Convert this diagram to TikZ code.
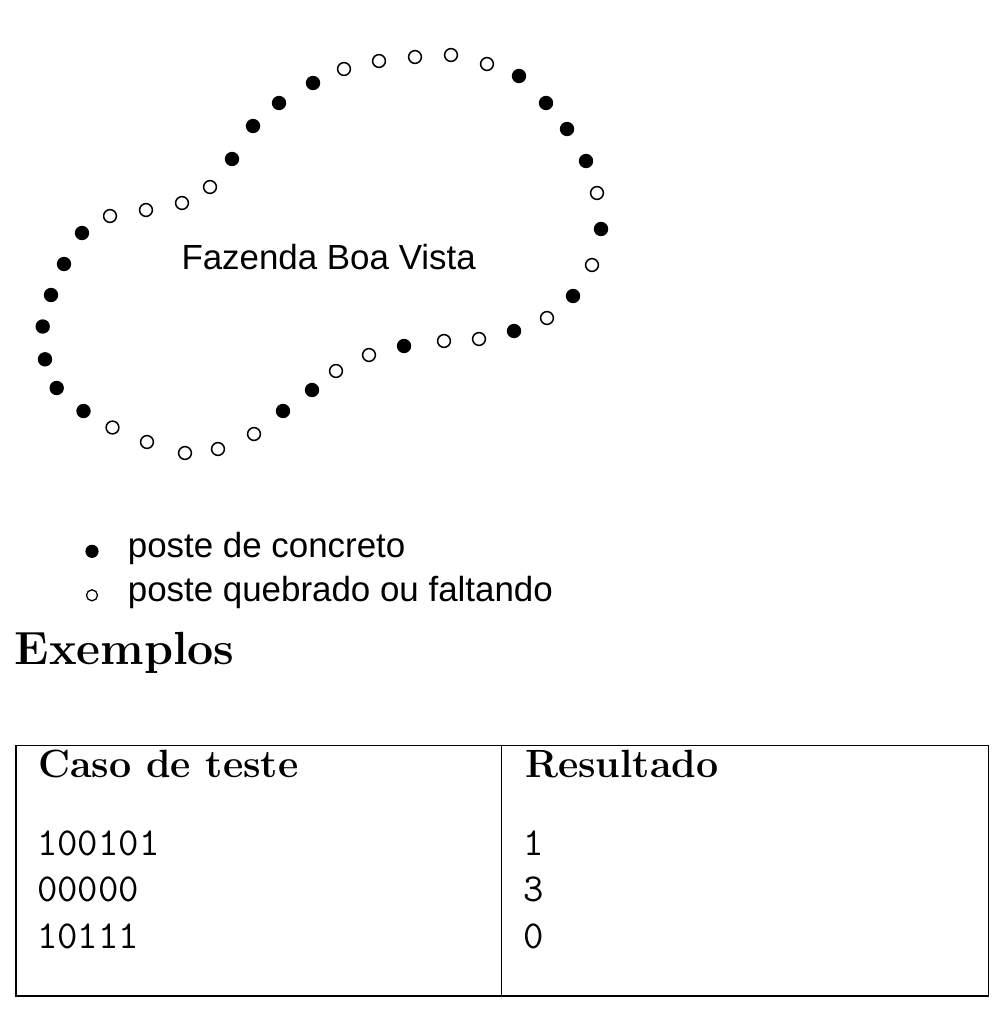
\documentclass[tikz,border=0pt]{standalone}
\usepackage{fontspec}
\newfontfamily\helv{Liberation Sans}
\begin{document}
\begin{tikzpicture}[x=1pt,y=-1pt,
  full/.style={circle, fill=black, draw=none, minimum size=14.4pt, inner sep=0pt},
  empty/.style={circle, draw=black, line width=1.5pt, fill=white, minimum size=12.8pt, inner sep=0pt},
  lfull/.style={circle, fill=black, draw=none, minimum size=13.2pt, inner sep=0pt},
  lempty/.style={circle, draw=black, line width=1.3pt, fill=white, minimum size=11pt, inner sep=0pt},
  sanslabel/.style={anchor=base west, inner sep=0pt, font=\helv\fontsize{34.9pt}{41pt}\selectfont},
  headlabel/.style={anchor=base west, inner sep=0pt, font=\fontsize{46.5pt}{54pt}\selectfont\bfseries},
  thlabel/.style={anchor=base west, inner sep=0pt, font=\fontsize{39.4pt}{45pt}\selectfont\bfseries},
  tdlabel/.style={anchor=base west, inner sep=0pt, font=\fontsize{39.6pt}{45pt}\selectfont\ttfamily},
  frame/.style={draw=black, line width=1.5pt, inner sep=0pt}
]
\useasboundingbox (0,0) rectangle (993,1011);

% fence posts
\foreach \px/\py/\kind [count=\i] in {
  313/83/full, 344/69/empty, 379/61/empty, 415/57/empty, 451/55/empty,
  487/64/empty, 519/76/full, 546/103/full, 567/129/full, 586/161/full,
  597/193/empty, 601/229/full, 592/265/empty, 573/296/full, 547/318/empty,
  514/331/full, 479/339/empty, 444/341/empty, 404/346/full, 369/355/empty,
  336/371/empty, 312/390/full, 283/411/full, 254/434/empty, 218/449/empty,
  185/453/empty, 147/442/empty, 112.5/427.5/empty, 83.5/411/full, 56.7/388/full,
  45/359.3/full, 42.7/326.5/full, 51/295/full, 64/264/full, 82/233/full,
  110/216/empty, 146/210/empty, 182/203/empty, 210/187/empty, 232/159/full,
  253/126/full, 279/103/full}
  \node[\kind] (p\i) at (\px,\py) {};

\node[sanslabel] (farm) at (181.3,269.3) {Fazenda Boa Vista};

% legend
\node[lfull] (bfull) at (92,551.3) {};
\node[sanslabel] (lgfull) at (127.7,557.7) {poste de concreto};
\node[lempty] (bempty) at (92,595.3) {};
\node[sanslabel] (lgempty) at (127.7,601.3) {poste quebrado ou faltando};

% heading
\node[headlabel] (exemplos) at (14.5,664.3) {Exemplos};

% table
\node[frame, anchor=north west, minimum width=972.7pt, minimum height=250.3pt] (tab) at (15,744.7) {};
\coordinate (divtop) at (501.7,744.7);
\coordinate (divbot) at (501.7,995);
\draw[line width=1.5pt] (divtop) -- (divbot);

\node[thlabel] (h1) at (38,777.7) {Caso de teste};
\node[thlabel] (h2) at (525,777.7) {Resultado};
\node[tdlabel] (a1) at (37,855) {100101};
\node[tdlabel] (a2) at (37,901.7) {00000};
\node[tdlabel] (a3) at (37,948.3) {10111};
\node[tdlabel] (b1) at (523,855) {1};
\node[tdlabel] (b2) at (523,901.7) {3};
\node[tdlabel] (b3) at (523,948.3) {0};
\end{tikzpicture}
\end{document}
